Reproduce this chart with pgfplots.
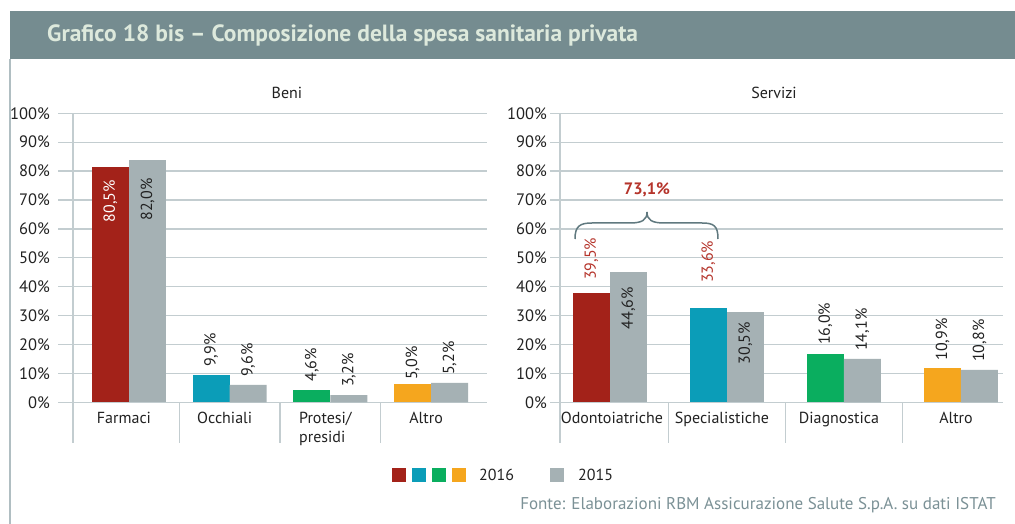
\documentclass[border=0pt]{standalone}
\usepackage{pgfplots}
\pgfplotsset{compat=1.18}
\usepackage{fontspec}
\setmainfont{PT Sans}
\definecolor{cRed}{HTML}{A32219}
\definecolor{cBlue}{HTML}{0B9DB8}
\definecolor{cGreen}{HTML}{0AAE5F}
\definecolor{cOrange}{HTML}{F5A61E}
\definecolor{cGrey}{HTML}{A5B1B4}
\definecolor{cBar}{HTML}{758C90}
\definecolor{cGrid}{HTML}{C3CDD0}
\definecolor{cTxt}{HTML}{222222}
\definecolor{cAnn}{HTML}{B5342B}
\definecolor{cSrc}{HTML}{7B9196}
\definecolor{cBrace}{HTML}{60797F}
\definecolor{cTitle}{HTML}{DDE9DC}
\definecolor{cFrame}{HTML}{B0BEC2}
\newcommand{\tf}{\fontsize{16}{19}\selectfont}
\newcommand{\yf}{\fontsize{16.5}{19}\selectfont}
\pgfplotsset{
  base/.style={scale only axis, height=289pt, ymin=0, ymax=100, clip=false,
    axis line style={draw=none}, major tick length=0pt,
    ymajorgrids, grid style={cGrid, line width=1.3pt},
    ytick={0,10,20,30,40,50,60,70,80,90,100},
    yticklabels={0\%,10\%,20\%,30\%,40\%,50\%,60\%,70\%,80\%,90\%,100\%},
    xtick={0,1,2,3},
    xticklabel style={font=\tf, text=cTxt, anchor=north, inner sep=0pt, yshift=-10pt, xshift=-5pt, align=left},
  },
  bb/.style={ybar, bar width=37pt, bar shift=0pt, draw=none},
  lout/.style={nodes near coords, point meta=explicit symbolic,
    nodes near coords style={font=\tf, text=cTxt, inner sep=0pt, yshift=#1, rotate=90, anchor=west}},
  lin/.style={nodes near coords, point meta=explicit symbolic,
    nodes near coords style={font=\tf, text=cTxt, inner sep=0pt, yshift=-#1, rotate=90, anchor=east}},
}
\begin{document}
\begin{tikzpicture}[x=1pt,y=1pt]
\useasboundingbox (0,0) rectangle (1015,524);
\fill[white] (0,0) rectangle (1015,524);
\fill[cBar] (10,465) rectangle (1015,513);
\node[anchor=west, inner sep=0pt, text=cTitle, font=\fontsize{23.5}{26}\selectfont\bfseries] at (47,489) {Grafico 18 bis -- Composizione della spesa sanitaria privata};
\draw[cFrame, line width=1.8pt] (10,465) -- (10,0);

% Beni (bars of 2016 at c-0.184, of 2015 at c+0.184)
\begin{axis}[base, at={(58pt,121.7pt)}, anchor=south west, width=429pt,
  xmin=-0.705, xmax=3.555,
  yticklabel style={font=\yf, text=cTxt, anchor=east, inner sep=0pt, xshift=-8pt},
  xticklabels={Farmaci,Occhiali,{Protesi/\\presidi},Altro}]
\addplot[bb, fill=cRed, lin=13pt, nodes near coords style={text=white}] coordinates {(-0.184,81.4) [80{,}5\%]};
\addplot[bb, fill=cGrey, lin=18pt] coordinates {(0.184,83.8) [82{,}0\%]};
\addplot[bb, fill=cBlue, lout=8pt] coordinates {(0.816,9.4) [9{,}9\%]};
\addplot[bb, fill=cGreen, lout=8pt] coordinates {(1.816,4.3) [4{,}6\%]};
\addplot[bb, fill=cOrange, lout=4pt] coordinates {(2.816,6.3) [5{,}0\%]};
\addplot[bb, fill=cGrey, lout=8pt] coordinates {(1.184,6.0) [9{,}6\%] (2.184,2.5) [3{,}2\%] (3.184,6.7) [5{,}2\%]};
\draw[cGrid, line width=1.3pt] (axis cs:-0.556,100) -- (axis cs:-0.556,-14.1);
\draw[cGrid, line width=1.3pt] (axis cs:0.5,0) -- (axis cs:0.5,-14.1);
\draw[cGrid, line width=1.3pt] (axis cs:1.5,0) -- (axis cs:1.5,-14.1);
\draw[cGrid, line width=1.3pt] (axis cs:2.5,0) -- (axis cs:2.5,-14.1);
\end{axis}

% Servizi (bars of 2016 at c-0.158, of 2015 at c+0.158)
\begin{axis}[base, at={(550pt,121.7pt)}, anchor=south west, width=453pt,
  xmin=-0.512, xmax=3.359,
  yticklabel style={font=\yf, text=cTxt, anchor=east, inner sep=0pt, xshift=-3pt},
  xticklabels={{\hspace*{14pt}Odontoiatriche},Specialistiche,Diagnostica,Altro}]
\addplot[bb, fill=cRed, lout=13pt, nodes near coords style={text=cAnn}] coordinates {(-0.158,37.8) [39{,}5\%]};
\addplot[bb, fill=cGrey, lin=15pt] coordinates {(0.158,45.1) [44{,}6\%]};
\addplot[bb, fill=cBlue, lout=25pt, nodes near coords style={text=cAnn}] coordinates {(0.842,32.6) [33{,}6\%]};
\addplot[bb, fill=cGrey, lin=10pt] coordinates {(1.158,31.3) [30{,}5\%]};
\addplot[bb, fill=cGreen, lout=9pt] coordinates {(1.842,16.7) [16{,}0\%]};
\addplot[bb, fill=cOrange, lout=7pt] coordinates {(2.842,11.9) [10{,}9\%]};
\addplot[bb, fill=cGrey, lout=8pt] coordinates {(2.158,15.0) [14{,}1\%] (3.158,11.2) [10{,}8\%]};
\draw[cGrid, line width=1.3pt] (axis cs:-0.427,100) -- (axis cs:-0.427,-14.1);
\draw[cGrid, line width=1.3pt] (axis cs:0.5,0) -- (axis cs:0.5,-14.1);
\draw[cGrid, line width=1.3pt] (axis cs:1.5,0) -- (axis cs:1.5,-14.1);
\draw[cGrid, line width=1.3pt] (axis cs:2.5,0) -- (axis cs:2.5,-14.1);
\end{axis}

\node[font=\tf, text=cTxt] at (287,431) {Beni};
\node[font=\tf, text=cTxt] at (774,431) {Servizi};

% brace
\draw[cBrace, line width=1.5pt] (575,285) .. controls (575,298) and (580,301) .. (592,301) -- (630,301) .. controls (642,301) and (647,304) .. (647,312) .. controls (647,304) and (652,301) .. (664,301) -- (702,301) .. controls (714,301) and (718,298) .. (718,285);
\node[font=\fontsize{16.5}{19}\selectfont\bfseries, text=cAnn] at (647,334) {73,1\%};

% legend
\fill[cRed] (392,42) rectangle (406,56);
\fill[cBlue] (412,42) rectangle (426,56);
\fill[cGreen] (432,42) rectangle (446,56);
\fill[cOrange] (452,42) rectangle (466,56);
\node[anchor=west, inner sep=0pt, font=\tf, text=cTxt] at (479,49) {2016};
\fill[cGrey] (550,42) rectangle (564,56);
\node[anchor=west, inner sep=0pt, font=\tf, text=cTxt] at (578,49) {2015};

\node[anchor=east, inner sep=0pt, font=\fontsize{17}{20}\selectfont, text=cSrc] at (996,19) {Fonte: Elaborazioni RBM Assicurazione Salute S.p.A. su dati ISTAT};
\end{tikzpicture}
\end{document}
